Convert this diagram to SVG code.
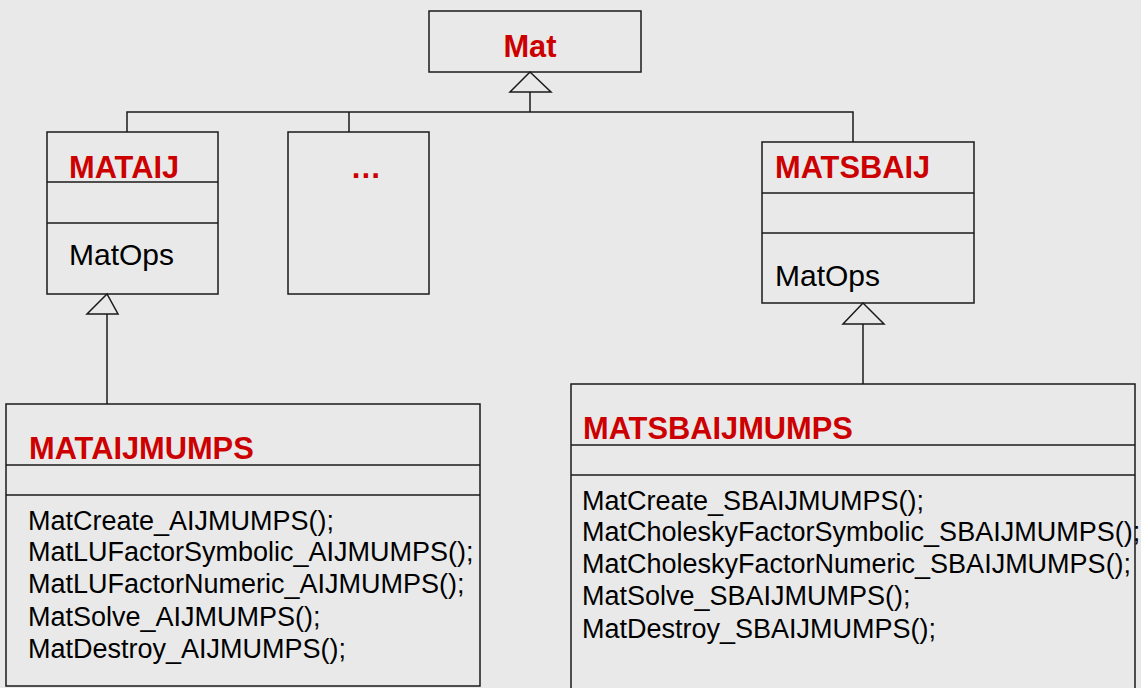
<svg xmlns="http://www.w3.org/2000/svg" width="1141" height="688" viewBox="0 0 1141 688">
<style>
.box{fill:none;stroke:#1a1a1a;stroke-width:1.5}
.ln{fill:none;stroke:#1a1a1a;stroke-width:1.5}
.tri{fill:#e9e9e9;stroke:#1a1a1a;stroke-width:1.5}
.t{font-family:"Liberation Sans",Arial,sans-serif;font-weight:bold;font-size:30.8px;fill:#cc0000}
.b{font-family:"Liberation Sans",Arial,sans-serif;font-size:27px;fill:#000}
.o{font-family:"Liberation Sans",Arial,sans-serif;font-size:30px;fill:#000}
</style>
<rect width="1141" height="688" fill="#e9e9e9"/>
<g id="connectors">
<polyline class="ln" points="127,132 127,112 853,112 853,142"/>
<line class="ln" x1="349" y1="112" x2="349" y2="132"/>
<line class="ln" x1="530" y1="92" x2="530" y2="112"/>
<polygon class="tri" points="530,72 510,92 551,92"/>
<line class="ln" x1="107" y1="314" x2="107" y2="404"/>
<polygon class="tri" points="107,294 87,314 118,314"/>
<line class="ln" x1="863" y1="324" x2="863" y2="384"/>
<polygon class="tri" points="863,303 843,324 884,324"/>
</g>
<g id="mat">
<rect class="box" x="429" y="11" width="212" height="61"/>
<text class="t" x="530" y="57" text-anchor="middle">Mat</text>
</g>
<g id="mataij">
<rect class="box" x="47" y="132" width="171" height="162"/>
<line class="ln" x1="47" y1="182" x2="218" y2="182"/>
<line class="ln" x1="47" y1="223" x2="218" y2="223"/>
<text class="t" x="69" y="178">MATAIJ</text>
<text class="o" x="69" y="265">MatOps</text>
</g>
<g id="other">
<rect class="box" x="288" y="132" width="141" height="162"/>
<text class="t" x="366" y="178" text-anchor="middle">…</text>
</g>
<g id="matsbaij">
<rect class="box" x="762" y="142" width="212" height="161"/>
<line class="ln" x1="762" y1="193" x2="974" y2="193"/>
<line class="ln" x1="762" y1="233" x2="974" y2="233"/>
<text class="t" x="775" y="178">MATSBAIJ</text>
<text class="o" x="775" y="286">MatOps</text>
</g>
<g id="mataijmumps">
<rect class="box" x="6" y="404" width="474" height="282"/>
<line class="ln" x1="6" y1="465" x2="480" y2="465"/>
<line class="ln" x1="6" y1="495" x2="480" y2="495"/>
<text class="t" x="29" y="459">MATAIJMUMPS</text>
<text class="b" x="28" y="530">MatCreate_AIJMUMPS();</text>
<text class="b" x="28" y="561">MatLUFactorSymbolic_AIJMUMPS();</text>
<text class="b" x="28" y="593">MatLUFactorNumeric_AIJMUMPS();</text>
<text class="b" x="28" y="626">MatSolve_AIJMUMPS();</text>
<text class="b" x="28" y="658">MatDestroy_AIJMUMPS();</text>
</g>
<g id="matsbaijmumps">
<rect class="box" x="571" y="384" width="564" height="320"/>
<line class="ln" x1="571" y1="445" x2="1135" y2="445"/>
<line class="ln" x1="571" y1="475" x2="1135" y2="475"/>
<text class="t" x="583" y="439">MATSBAIJMUMPS</text>
<text class="b" x="582" y="510">MatCreate_SBAIJMUMPS();</text>
<text class="b" x="582" y="541">MatCholeskyFactorSymbolic_SBAIJMUMPS();</text>
<text class="b" x="582" y="573">MatCholeskyFactorNumeric_SBAIJMUMPS();</text>
<text class="b" x="582" y="605">MatSolve_SBAIJMUMPS();</text>
<text class="b" x="582" y="638">MatDestroy_SBAIJMUMPS();</text>
</g>
</svg>
